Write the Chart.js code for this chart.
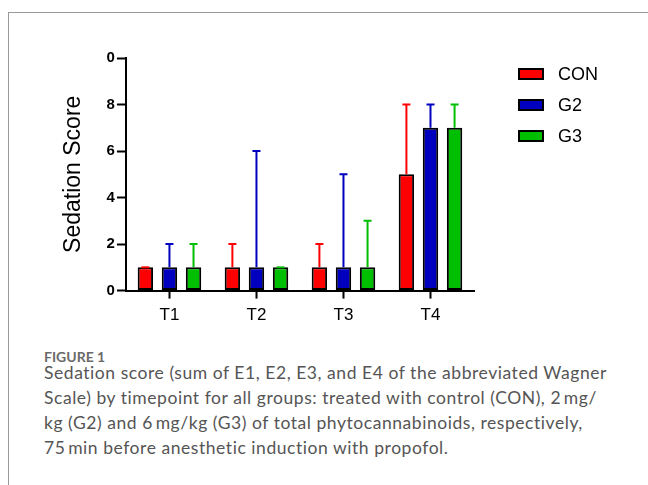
<!DOCTYPE html>
<html>
<head>
<meta charset="utf-8">
<script src="https://cdn.jsdelivr.net/npm/chart.js@4"></script>
<style>
  body { margin: 0; background: #fff; width: 648px; height: 485px; overflow: hidden; position: relative; }
  .frame { position: absolute; left: 8px; top: 12px; width: 700px; height: 500px; border-left: 1px solid #999; border-top: 1px solid #999; }
  #wrap { position: absolute; left: 0; top: 0; width: 648px; height: 335px; }
  .fig { position: absolute; left: 44px; top: 348px; font-family: Lato, sans-serif; font-weight: 700; font-size: 14px; color: #6a6a6a; }
  .cap { position: absolute; left: 44px; top: 360px; white-space: nowrap; font-family: Lato, sans-serif; font-size: 17.5px; letter-spacing: 0.55px; line-height: 25px; color: #555; }
</style>
</head>
<body>
<div class="frame"></div>
<div id="wrap"><canvas id="myChart"></canvas></div>
<div class="fig">FIGURE 1</div>
<div class="cap">Sedation score (sum of E1, E2, E3, and E4 of the abbreviated Wagner<br>Scale) by timepoint for all groups: treated with control (CON), 2&#8201;mg/<br>kg (G2) and 6&#8201;mg/kg (G3) of total phytocannabinoids, respectively,<br>75&#8201;min before anesthetic induction with propofol.</div>
<script>
const timepoints = ['T1', 'T2', 'T3', 'T4'];
const groups = ['CON', 'G2', 'G3'];
const colors = ['rgb(255,0,0)', 'rgb(0,0,190)', 'rgb(0,190,0)'];

// bar heights
const conValues = [1, 1, 1, 5];
const g2Values = [1, 1, 1, 7];
const g3Values = [1, 1, 1, 7];

// top of the error bars
const conUpper = [1, 2, 2, 8];
const g2Upper = [2, 6, 5, 8];
const g3Upper = [2, 1, 3, 8];

const yTickLabels = ['0', '2', '4', '6', '8', '0'];

const values = [conValues, g2Values, g3Values];
const uppers = [conUpper, g2Upper, g3Upper];

const FONT = 'Liberation Sans, Arial, sans-serif';

const errorBars = {
  id: 'errorBars',
  afterDatasetsDraw(chart) {
    const ctx = chart.ctx;
    const y = chart.scales.y;
    chart.data.datasets.forEach((ds, i) => {
      const meta = chart.getDatasetMeta(i);
      meta.data.forEach((bar, j) => {
        const top = y.getPixelForValue(uppers[i][j]);
        ctx.save();
        ctx.strokeStyle = colors[i];
        ctx.lineWidth = 2;
        ctx.beginPath();
        ctx.moveTo(bar.x, bar.y);
        ctx.lineTo(bar.x, top);
        ctx.moveTo(bar.x - 4, top);
        ctx.lineTo(bar.x + 4, top);
        ctx.stroke();
        ctx.restore();
      });
    });
  }
};

// legend on the right, boxes with black outline
const sideLegend = {
  id: 'sideLegend',
  afterDraw(chart) {
    const ctx = chart.ctx;
    const area = chart.chartArea;
    ctx.save();
    chart.data.datasets.forEach((ds, i) => {
      const cy = area.top + 16 + i * 31;
      const bx = area.right + 45;
      ctx.fillStyle = ds.backgroundColor;
      ctx.fillRect(bx, cy - 5, 24, 10);
      ctx.strokeStyle = '#000';
      ctx.lineWidth = 2;
      ctx.strokeRect(bx, cy - 5, 24, 10);
      ctx.fillStyle = '#000';
      ctx.font = '18px ' + FONT;
      ctx.textBaseline = 'middle';
      ctx.fillText(ds.label, bx + 39, cy + 1);
    });
    ctx.restore();
  }
};

const ctx = document.getElementById('myChart').getContext('2d');
const myChart = new Chart(ctx, {
  type: 'bar',
  data: {
    labels: timepoints,
    datasets: groups.map((g, i) => ({
      label: g,
      data: values[i],
      backgroundColor: colors[i],
      borderColor: '#000',
      borderWidth: 2,
      borderSkipped: false,
      barPercentage: 0.64,
      categoryPercentage: 0.83
    }))
  },
  options: {
    responsive: true,
    maintainAspectRatio: false,
    animation: false,
    layout: { padding: { left: 60, top: 58, right: 174, bottom: 2 } },
    plugins: {
      tooltip: { enabled: false },
      legend: { display: false }
    },
    scales: {
      x: {
        grid: { display: true, drawOnChartArea: false, offset: false, tickLength: 8, tickColor: '#000', tickWidth: 2 },
        border: { color: '#000', width: 2 },
        ticks: { color: '#000', font: { family: FONT, size: 17 }, padding: 7 }
      },
      y: {
        min: 0,
        max: 10,
        grid: { drawOnChartArea: false, tickLength: 9, tickColor: '#000', tickWidth: 2 },
        border: { color: '#000', width: 2 },
        ticks: {
          stepSize: 2,
          color: '#000',
          padding: 2,
          font: { family: FONT, size: 15, weight: 'bold' },
          callback: (v) => yTickLabels[v / 2]
        },
        title: {
          display: true,
          text: 'Sedation Score',
          color: '#000',
          font: { family: FONT, size: 23 },
          padding: { top: 0, bottom: 17 }
        }
      }
    }
  },
  plugins: [errorBars, sideLegend]
});
</script>
</body>
</html>
